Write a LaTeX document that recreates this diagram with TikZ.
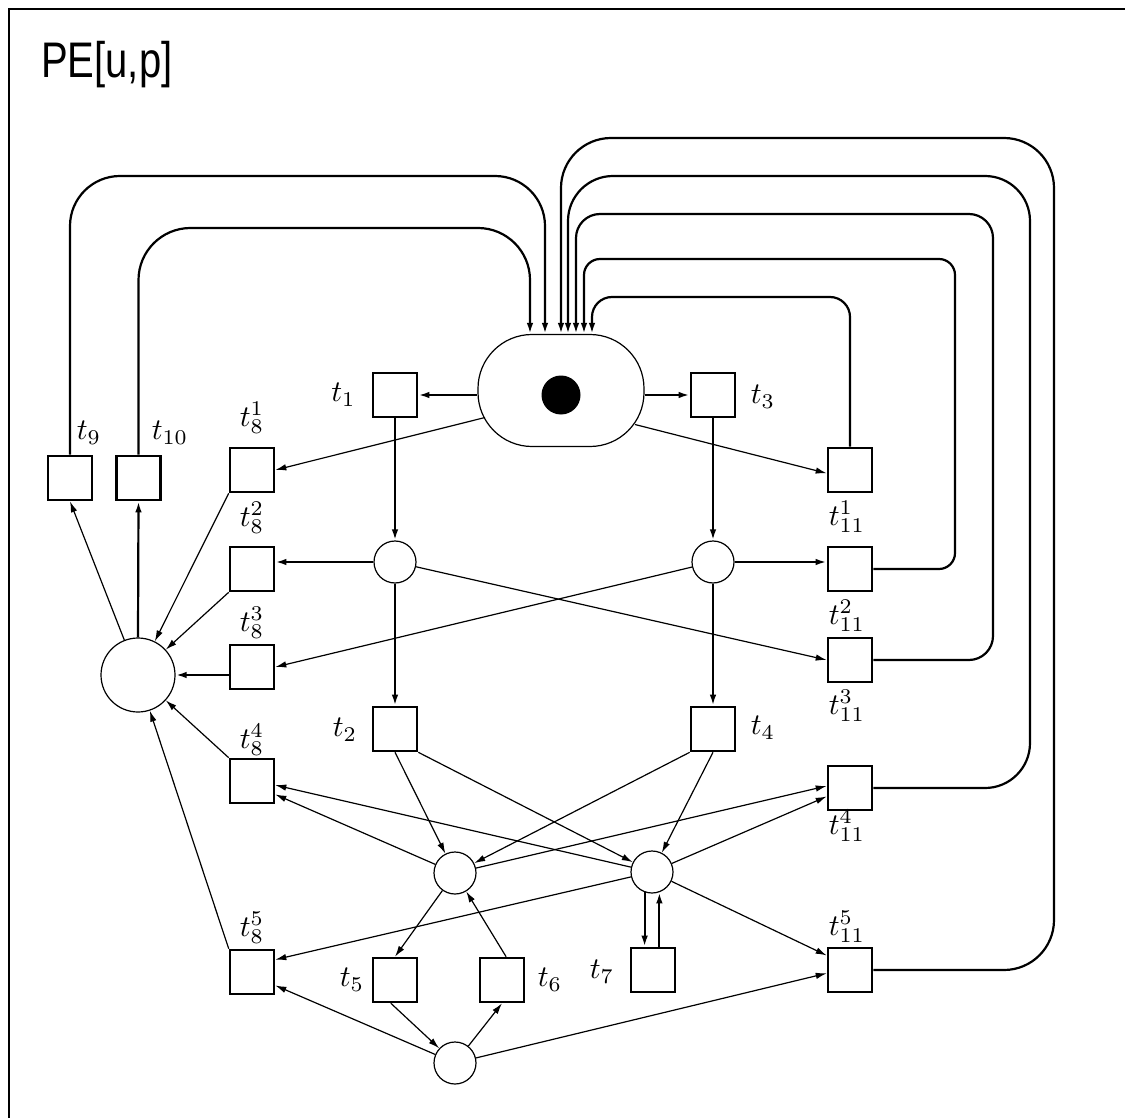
\documentclass[tikz,border=0pt]{standalone}
\usepackage{fontspec}
\usepackage{graphicx}
\usetikzlibrary{arrows.meta,calc}
\newfontfamily\titlefont{Liberation Sans}
\newcommand{\tlab}[1]{\scalebox{3}{$#1$}}
\begin{document}
\begin{tikzpicture}[x=1pt,y=-1pt,
  trans/.style={draw, line width=2.6pt, minimum size=44pt, inner sep=0pt},
  place/.style={draw, circle, line width=1.2pt, minimum size=42pt, inner sep=0pt},
  lbl/.style={inner sep=0pt},
  arr/.style={-{Latex[length=11pt,width=6.5pt]}, line width=1.2pt},
  tarr/.style={-{Latex[length=11pt,width=6.5pt]}, line width=2.2pt},
  route/.style={-{Latex[length=11pt,width=6.5pt]}, line width=2.2pt}
]
\useasboundingbox (0,0) rectangle (1125,1118);
\draw[line width=2.8pt] (9,1118) -- (9,9) -- (1125,9);

\node[anchor=base west, inner sep=0pt] (title) at (41,78)
  {\titlefont\fontsize{50}{60}\selectfont\scalebox{0.8}[1]{PE[u,p]}};

% places
\node[draw, rounded corners=54pt, minimum width=166pt, minimum height=112pt, line width=1.2pt] (P0) at (561,390.5) {};
\node[circle, fill, minimum size=39pt, inner sep=0pt] (tok) at (561,395) {};
\node[place] (p1) at (395,562) {};
\node[place] (p2) at (713,562) {};
\node[place] (p3) at (455,873) {};
\node[place] (p4) at (652,872) {};
\node[place] (p5) at (455,1063) {};
\node[place, minimum size=74pt] (P8) at (138,675) {};

% transitions
\node[trans] (t1) at (395,395) {};
\node[trans] (t3) at (713,395) {};
\node[trans] (t2) at (395,729) {};
\node[trans] (t4) at (713,729) {};
\node[trans] (t5) at (395,980) {};
\node[trans] (t6) at (502,980) {};
\node[trans] (t7) at (653,970) {};
\node[trans] (t9) at (70,478) {};
\node[trans] (t10) at (138.5,478) {};
\node[trans] (t81) at (252,470) {};
\node[trans] (t82) at (252,569) {};
\node[trans] (t83) at (252,667) {};
\node[trans] (t84) at (252,781) {};
\node[trans] (t85) at (252,972) {};
\node[trans] (t111) at (850,470) {};
\node[trans] (t112) at (850,569) {};
\node[trans] (t113) at (850,660) {};
\node[trans] (t114) at (850,788) {};
\node[trans] (t115) at (850,970) {};

% labels
\node[lbl] (l1) at (343.5,395) {\tlab{t_1}};
\node[lbl] (l3) at (763,397) {\tlab{t_3}};
\node[lbl] (l2) at (345,730) {\tlab{t_2}};
\node[lbl] (l4) at (763,728) {\tlab{t_4}};
\node[lbl] (l5) at (352,980) {\tlab{t_5}};
\node[lbl] (l6) at (550,980) {\tlab{t_6}};
\node[lbl] (l7) at (602,972) {\tlab{t_7}};
\node[lbl] (l9) at (89,433) {\tlab{t_9}};
\node[lbl] (l10) at (170,433) {\tlab{t_{10}}};
\node[lbl] (l81) at (252,418) {\tlab{t_8^1}};
\node[lbl] (l82) at (252,518) {\tlab{t_8^2}};
\node[lbl] (l83) at (252,623) {\tlab{t_8^3}};
\node[lbl] (l84) at (252,740) {\tlab{t_8^4}};
\node[lbl] (l85) at (252,928) {\tlab{t_8^5}};
\node[lbl] (l111) at (847,517) {\tlab{t_{11}^1}};
\node[lbl] (l112) at (847,616) {\tlab{t_{11}^2}};
\node[lbl] (l113) at (847,706) {\tlab{t_{11}^3}};
\node[lbl] (l114) at (847,826) {\tlab{t_{11}^4}};
\node[lbl] (l115) at (847,927) {\tlab{t_{11}^5}};

% entry points on top of P0
\coordinate (in1) at ($(P0.north)+(-31,0)$);
\coordinate (in2) at ($(P0.north)+(-16,0)$);
\coordinate (in3) at ($(P0.north)+(0,0)$);
\coordinate (in4) at ($(P0.north)+(7,0)$);
\coordinate (in5) at ($(P0.north)+(15,0)$);
\coordinate (in6) at ($(P0.north)+(23,0)$);
\coordinate (in7) at ($(P0.north)+(31,0)$);
\coordinate (P0sw) at ($(P0.center)+(-76,27)$);
\coordinate (P0se) at ($(P0.center)+(74,34)$);

% long routes back to P0
\draw[route, rounded corners=52pt] (t10.north) |- (530,228) -- (in1);
\draw[route, rounded corners=50pt] (t9.north) |- (545,176) -- (in2);
\draw[route, rounded corners=50pt] (t115.east) -| (1054,138) -| (in3);
\draw[route, rounded corners=45pt] (t114.east) -| (1030,176) -| (in4);
\draw[route, rounded corners=24pt] (t113.east) -| (993,214) -| (in5);
\draw[route, rounded corners=16pt] (t112.east) -| (955,259) -| (in6);
\draw[route, rounded corners=20pt] (t111.north) -- (850,297) -| (in7);

% arcs around P0
\draw[tarr] (t1 -| P0.west) -- (t1.east);
\draw[tarr] (t3 -| P0.east) -- (t3.west);
\draw[arr] (P0sw) -- (t81.east);
\draw[arr] (P0se) -- (t111.188);

% vertical spines
\draw[tarr] (t1.south) -- (p1.north);
\draw[tarr] (t3.south) -- (p2.north);
\draw[tarr] (p1.south) -- (t2.north);
\draw[tarr] (p2.south) -- (t4.north);

% p1, p2 outputs
\draw[tarr] (p1.west) -- (p1 -| t82.east);
\draw[tarr] (p2.east) -- (p2 -| t112.west);
\draw[arr] (p1) -- (t113.west);
\draw[arr] (p2) -- (t83.east);

% into P8 and out of it
\draw[arr] (t81.south west) -- (P8);
\draw[arr] (t82.south west) -- (P8);
\draw[tarr] (t83.west |- P8) -- (P8.east);
\draw[arr] (t84.north west) -- (P8);
\draw[arr] (t85.north west) -- (P8);
\draw[arr] (P8) -- (t9.south);
\draw[tarr] (P8.north) -- (t10.south);

% t2, t4 outputs
\draw[arr] (t2.south) -- (p3);
\draw[arr] (t2.south east) -- (p4);
\draw[arr] (t4.south west) -- (p3);
\draw[arr] (t4.south) -- (p4);

% p3, p4 outputs
\draw[arr] (p3) -- (t84.-30);
\draw[arr] (p4) -- (t84.-10);
\draw[arr] (p3) -- (t114.175);
\draw[arr] (p4) -- (t114.200);
\draw[arr] (p4) -- (t85.28);
\draw[arr] (p4) -- (t115.148);
\draw[tarr] (p4.-110) -- (p4.-110 |- t7.north);
\draw[tarr] (t7.north -| p4.-70) -- (p4.-70);

% lower loop
\draw[arr] (p3) -- (t5.north);
\draw[arr] (t6.80) -- (p3);
\draw[arr] (t5.-100) -- (p5);
\draw[arr] (p5) -- (t6.south);
\draw[arr] (p5) -- (t85.-30);
\draw[arr] (p5) -- (t115.188);
\end{tikzpicture}
\end{document}
